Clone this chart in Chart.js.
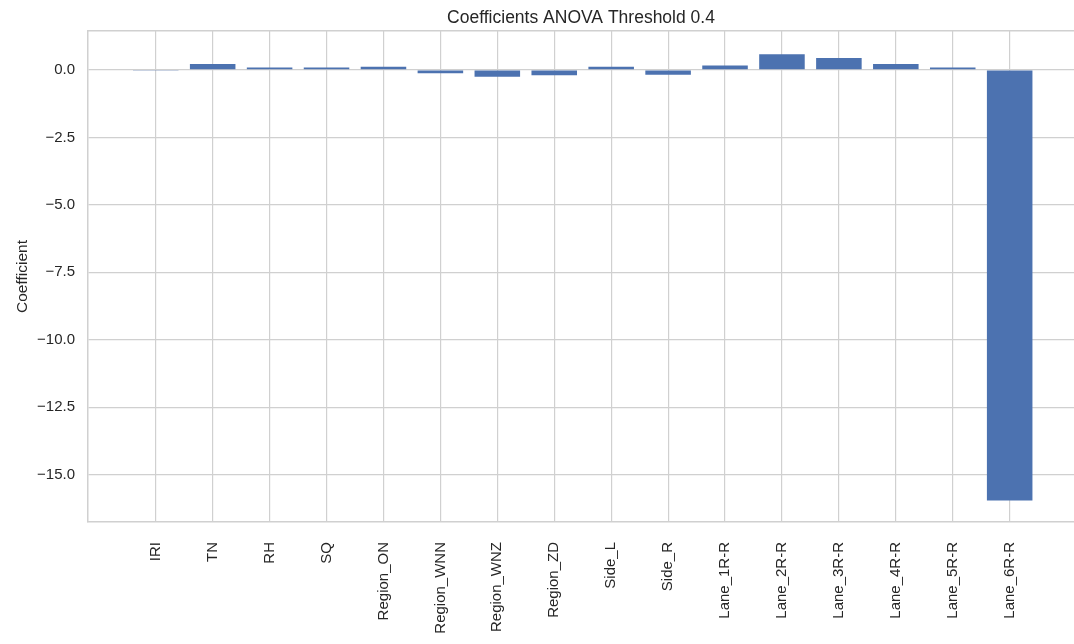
<!DOCTYPE html>
<html>
<head>
<meta charset="utf-8">
<script src="https://cdn.jsdelivr.net/npm/chart.js@4/dist/chart.umd.min.js"></script>
<style>
  html, body { margin: 0; padding: 0; background: #ffffff; overflow: hidden; }
  #wrap { width: 1074px; height: 644px; }
</style>
</head>
<body>
<div id="wrap"><canvas id="chart" width="1074" height="644"></canvas></div>
<script>
// Feature names on the x axis
const categories = [
  'IRI', 'TN', 'RH', 'SQ', 'Region_ON', 'Region_WNN', 'Region_WNZ', 'Region_ZD',
  'Side_L', 'Side_R', 'Lane_1R-R', 'Lane_2R-R', 'Lane_3R-R', 'Lane_4R-R', 'Lane_5R-R', 'Lane_6R-R'
];

// Model coefficients, one per feature
const coefficients = [
  -0.01, 0.22, 0.09, 0.09, 0.12, -0.12, -0.25, -0.20,
  0.12, -0.18, 0.17, 0.58, 0.44, 0.22, 0.09, -15.96
];

// Tick values on the coefficient axis
const yTicks = [0, -2.5, -5, -7.5, -10, -12.5, -15];

const FONT = "'Liberation Sans', Arial, 'DejaVu Sans', sans-serif";
const TEXT = '#262626';
const GRID = '#d0d0d0';
const BAR = '#4c72b0';

const fmt = v => (v < 0 ? '\u2212' : '') + Math.abs(v).toFixed(1);

const points = coefficients.map((v, i) => ({ x: i, y: v }));

new Chart(document.getElementById('chart'), {
  type: 'bar',
  data: {
    datasets: [{
      data: points,
      backgroundColor: BAR,
      borderWidth: 0,
      barPercentage: 0.8,
      categoryPercentage: 1.0
    }]
  },
  options: {
    responsive: false,
    animation: false,
    devicePixelRatio: 1,
    layout: { padding: 0 },
    plugins: {
      legend: { display: false },
      tooltip: { enabled: false }
    },
    scales: {
      x: {
        type: 'linear',
        position: 'bottom',
        offset: false,
        min: -1.19,
        max: 16.13,
        afterBuildTicks: axis => { axis.ticks = categories.map((_, i) => ({ value: i })); },
        afterFit: axis => { axis.height = 122; },
        ticks: {
          autoSkip: false,
          minRotation: 90,
          maxRotation: 90,
          padding: 20,
          color: TEXT,
          font: { family: FONT, size: 15 },
          callback: v => categories[v] ?? ''
        },
        grid: { offset: false, color: GRID, lineWidth: 1.2, drawTicks: false },
        border: { display: true, color: GRID, width: 1.5 }
      },
      xTop: {
        type: 'linear',
        position: 'top',
        offset: false,
        min: -1.19,
        max: 16.13,
        ticks: { display: false },
        grid: { display: false, drawTicks: false },
        border: { display: true, color: GRID, width: 1.5 },
        title: {
          display: true,
          text: 'Coefficients ANOVA Threshold 0.4',
          color: TEXT,
          font: { family: FONT, size: 17.5, weight: 'normal', lineHeight: 1.2 },
          padding: { top: 8, bottom: 2 }
        }
      },
      y: {
        type: 'linear',
        min: -16.76,
        max: 1.445,
        afterBuildTicks: axis => { axis.ticks = yTicks.map(v => ({ value: v })); },
        afterFit: axis => { axis.width = 88; },
        ticks: {
          padding: 13,
          color: TEXT,
          font: { family: FONT, size: 15 },
          callback: v => fmt(v)
        },
        grid: { color: GRID, lineWidth: 1.2, drawTicks: false },
        border: { display: true, color: GRID, width: 1.5 },
        title: {
          display: true,
          text: 'Coefficient',
          color: TEXT,
          font: { family: FONT, size: 15.5 },
          padding: { top: 13, bottom: 0 }
        }
      }
    }
  }
});
</script>
</body>
</html>
